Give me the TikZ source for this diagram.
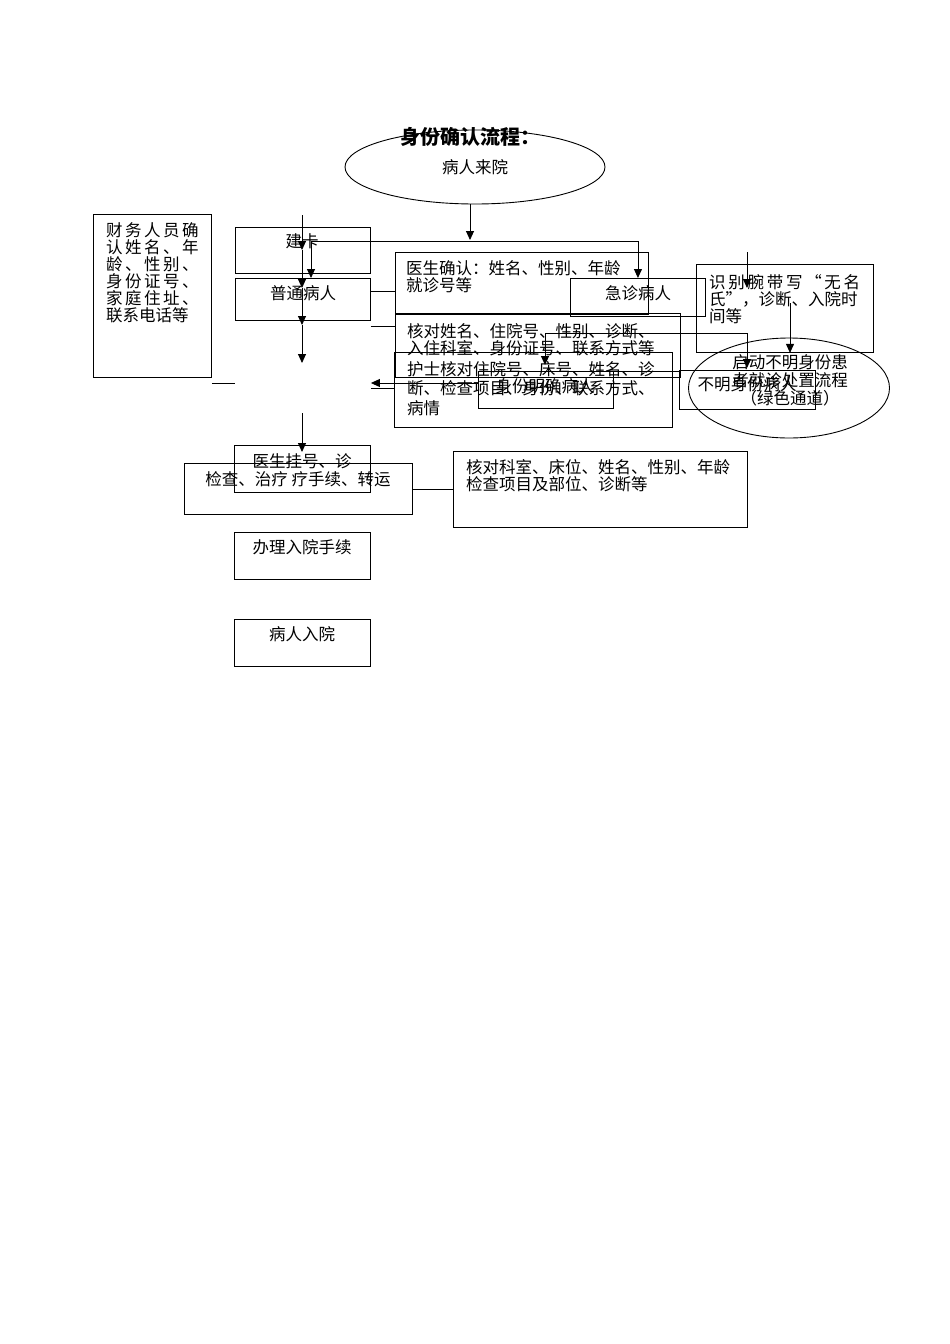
\documentclass[tikz,border=0pt]{standalone}
\usepackage{fontspec}
\setmainfont{Noto Sans CJK SC}
\usepackage{tikz}
\usetikzlibrary{positioning,arrows.meta,shapes.geometric}
\newcommand{\spread}[2]{\makebox[#1][s]{#2}}

\begin{document}
\begin{tikzpicture}[x=1pt,y=-1pt,
  font=\fontsize{16.5}{17}\selectfont,
  box/.style={draw,line width=0.9pt,inner sep=0pt,anchor=north west},
  txt/.style={inner sep=0pt,align=left,anchor=north west},
  lbl/.style={inner sep=0pt},
  ln/.style={line width=0.9pt},
  ar/.style={-{Triangle[length=9pt,width=8pt]},line width=0.9pt}]
  \useasboundingbox (0,0) rectangle (950,1344);

  % title and start
  \node[draw,ellipse,line width=0.9pt,minimum width=260pt,minimum height=74pt,
        inner sep=0pt] (lk) at (475,167) {病人来院};
  \node[lbl,font=\fontsize{20}{22}\selectfont\bfseries] (ttl) at (470,137) {身份确认流程：};

  % left column
  \node[box,minimum width=118pt,minimum height=163pt] (cw) at (93,214) {};
  \node[txt] (cwt) at (106,222) {\spread{92pt}{财 务 人 员 确}\\
    \spread{92pt}{认 姓 名 、 年}\\ \spread{92pt}{龄 、 性 别 、}\\
    \spread{92pt}{身 份 证 号 、}\\ \spread{92pt}{家 庭 住 址 、}\\ 联系电话等};
  \node[box,minimum width=135pt,minimum height=46pt] (jk) at (235,227) {};
  \node[lbl] (jkt) at (302,241) {建卡};
  \node[box,minimum width=135pt,minimum height=42pt] (pt) at (235,278) {};
  \node[lbl] (ptt) at (303,293) {普通病人};
  \node[box,minimum width=136pt,minimum height=47pt] (gh) at (234,445) {};
  \node[lbl] (ght) at (302,461) {医生挂号、诊};
  \node[box,minimum width=228pt,minimum height=51pt] (jc) at (184,463) {};
  \node[lbl] (jct) at (298,479) {检查、治疗 疗手续、转运};
  \node[box,minimum width=136pt,minimum height=47pt] (rx) at (234,532) {};
  \node[lbl] (rxt) at (302,547) {办理入院手续};
  \node[box,minimum width=136pt,minimum height=47pt] (ry) at (234,619) {};
  \node[lbl] (ryt) at (302,634) {病人入院};
  \node[box,minimum width=294pt,minimum height=76pt] (kd) at (453,451) {};
  \node[txt] (kdt) at (466,459) {核对科室、床位、姓名、性别、年龄\\检查项目及部位、诊断等};

  % middle block
  \node[box,minimum width=253pt,minimum height=62pt] (ys) at (395,252) {};
  \node[txt] (yst) at (406,260) {医生确认：姓名、性别、年龄\\就诊号等};
  \node[box,minimum width=135pt,minimum height=38pt] (jz) at (570,278) {};
  \node[lbl] (jzt) at (638,293) {急诊病人};
  \node[box,minimum width=285pt,minimum height=64pt] (hd) at (395,313) {};
  \node[txt] (hdt) at (407,323) {核对姓名、住院号、性别、诊断、\\入住科室、身份证号、联系方式等};
  \node[box,minimum width=278pt,minimum height=75pt] (hs) at (394,352) {};
  \node[txt,font=\fontsize{16.5}{19.5}\selectfont] (hst) at (407,361)
    {护士核对住院号、床号、姓名、诊\\断、检查项目、身份、联系方式、\\病情};
  \node[box,minimum width=135pt,minimum height=37pt] (mq) at (478,371) {};
  \node[lbl] (mqt) at (545,386) {身份明确病人};

  % right block
  \node[box,minimum width=177pt,minimum height=88pt] (sb) at (696,264) {};
  \node[txt] (sbt) at (709,274) {\spread{151pt}{识 别 腕 带 写 “ 无 名}\\
    \spread{151pt}{氏”，诊断、入院时}\\间等};
  \node[box,minimum width=136pt,minimum height=39pt] (bm) at (679,370) {};
  \node[lbl] (bmt) at (747,384) {不明身份病人};
  \node[draw,ellipse,line width=0.9pt,minimum width=201pt,minimum height=100pt,
        inner sep=0pt] (qd) at (789,388) {};
  \node[lbl,align=center,anchor=north,font=\fontsize{16.5}{18}\selectfont] (qdt)
    at (790,354) {启动不明身份患\\者就诊处置流程\\（绿色通道）};

  % connectors
  \coordinate (a0) at (470,240);
  \draw[ar] (a0 |- lk.south) -- (a0);
  \coordinate (v0) at (302,215);
  \coordinate (v1) at (302,250);
  \coordinate (v2) at (302,288);
  \coordinate (v3) at (302,325);
  \coordinate (v4) at (302,363);
  \coordinate (v5) at (302,413);
  \coordinate (v6) at (302,452);
  \draw[ar] (v0) -- (v1);
  \draw[ar] (v1) -- (v2);
  \draw[ar] (v2) -- (v3);
  \draw[ar] (v3) -- (v4);
  \draw[ar] (v5) -- (v6);
  \coordinate (b0) at (311,241);
  \coordinate (b1) at (311,278);
  \draw[ar] (b0) -- (b1);
  \draw[ar] (b0) -| (jz.north);
  \coordinate (p1) at ([yshift=-13pt]pt.north east);
  \draw[ln] (p1) -- (p1 -| ys.west);
  \coordinate (p2) at ([yshift=-48pt]pt.north east);
  \draw[ln] (p2) -- (p2 -| hd.west);
  \coordinate (p3) at ([yshift=-6pt]cw.south east);
  \draw[ln] (p3) -- (p3 -| jk.west);
  \coordinate (p4) at ([yshift=-26pt]jc.north east);
  \draw[ln] (p4) -- (p4 -| kd.west);
  \coordinate (p5) at ([yshift=-12pt]mq.north west);
  \draw[ar] (p5) -- (p5 -| pt.east);
  \coordinate (p6) at ([yshift=-36pt]hs.north west);
  \draw[ln] (p6) -- (p6 -| pt.east);
  \draw[ln] (mq.north east) -- (mq.north east -| bm.west);
  \coordinate (s0) at (545,333);
  \coordinate (s1) at (747,333);
  \coordinate (s2) at (545,365);
  \coordinate (s3) at (747,368);
  \draw[ar] (s1) -- (s0) -- (s2);
  \draw[ar] (s1) -- (s3);
  \coordinate (w0) at (747,252);
  \coordinate (w1) at (747,288);
  \draw[ar] (w0) -- (w1);
  \coordinate (w2) at (790,303);
  \draw[ar] (w2) -- (w2 |- sb.south);
\end{tikzpicture}
\end{document}
